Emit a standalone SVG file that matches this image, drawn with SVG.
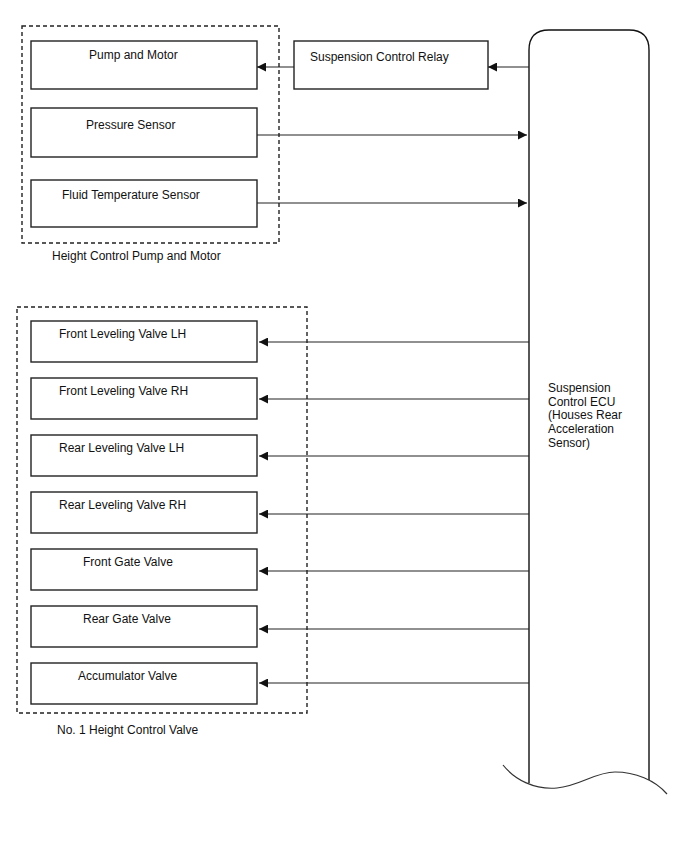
<svg xmlns="http://www.w3.org/2000/svg" width="688" height="852" viewBox="0 0 688 852">
<style>
.box{fill:#fff;stroke:#222;stroke-width:1.4}
.grp{fill:none;stroke:#222;stroke-width:1.4;stroke-dasharray:4,3}
.t{font-family:"Liberation Sans",Arial,sans-serif;font-size:12px;fill:#111}
.c{stroke:#222;stroke-width:1.2;fill:none}
</style>
<defs>
<marker id="ah" viewBox="0 0 10 10" refX="10" refY="5" markerWidth="10" markerHeight="9" markerUnits="userSpaceOnUse" orient="auto">
<path d="M0,0 L10,5 L0,10 Z" fill="#111"/>
</marker>
</defs>
<rect width="688" height="852" fill="#fff"/>

<g id="group-pump">
<rect class="grp" x="22" y="26" width="257" height="217"/>
<text class="t" x="52" y="260">Height Control Pump and Motor</text>
</g>
<g id="group-valve">
<rect class="grp" x="17" y="307" width="290" height="406"/>
<text class="t" x="57" y="734">No. 1 Height Control Valve</text>
</g>

<g id="pump-motor"><rect class="box" x="31" y="41" width="226" height="48"/><text class="t" x="89" y="59">Pump and Motor</text></g>
<g id="pressure-sensor"><rect class="box" x="31" y="108" width="226" height="49"/><text class="t" x="86" y="129">Pressure Sensor</text></g>
<g id="fluid-temp-sensor"><rect class="box" x="31" y="180" width="226" height="47"/><text class="t" x="62" y="199">Fluid Temperature Sensor</text></g>
<g id="relay"><rect class="box" x="294" y="41" width="194" height="48"/><text class="t" x="310" y="61">Suspension Control Relay</text></g>

<g id="front-lh"><rect class="box" x="31" y="321" width="226" height="41"/><text class="t" x="59" y="338">Front Leveling Valve LH</text></g>
<g id="front-rh"><rect class="box" x="31" y="378" width="226" height="41"/><text class="t" x="59" y="395">Front Leveling Valve RH</text></g>
<g id="rear-lh"><rect class="box" x="31" y="435" width="226" height="41"/><text class="t" x="59" y="452">Rear Leveling Valve LH</text></g>
<g id="rear-rh"><rect class="box" x="31" y="492" width="226" height="41"/><text class="t" x="59" y="509">Rear Leveling Valve RH</text></g>
<g id="front-gate"><rect class="box" x="31" y="549" width="226" height="41"/><text class="t" x="83" y="566">Front Gate Valve</text></g>
<g id="rear-gate"><rect class="box" x="31" y="606" width="226" height="41"/><text class="t" x="83" y="623">Rear Gate Valve</text></g>
<g id="accumulator"><rect class="box" x="31" y="663" width="226" height="41"/><text class="t" x="78" y="680">Accumulator Valve</text></g>

<g id="ecu">
<path d="M529,783 L529,50 Q529,30 549,30 L629,30 Q649,30 649,50 L649,780" fill="#fff" stroke="#111" stroke-width="1.4"/>
<path d="M503,765 C515,780 535,790 557,788 C580,786 595,772 615,772 C635,772 655,780 667,794" fill="none" stroke="#333" stroke-width="1.2"/>
<text class="t" x="548" y="392">Suspension</text>
<text class="t" x="548" y="406">Control ECU</text>
<text class="t" x="548" y="419">(Houses Rear</text>
<text class="t" x="548" y="433">Acceleration</text>
<text class="t" x="548" y="447">Sensor)</text>
</g>

<g id="connectors">
<line class="c" x1="294" y1="67" x2="257" y2="67" marker-end="url(#ah)"/>
<line class="c" x1="529" y1="67" x2="488" y2="67" marker-end="url(#ah)"/>
<line class="c" x1="257" y1="135" x2="527" y2="135" marker-end="url(#ah)"/>
<line class="c" x1="257" y1="203" x2="527" y2="203" marker-end="url(#ah)"/>
<line class="c" x1="529" y1="342" x2="259" y2="342" marker-end="url(#ah)"/>
<line class="c" x1="529" y1="399" x2="259" y2="399" marker-end="url(#ah)"/>
<line class="c" x1="529" y1="456" x2="259" y2="456" marker-end="url(#ah)"/>
<line class="c" x1="529" y1="514" x2="259" y2="514" marker-end="url(#ah)"/>
<line class="c" x1="529" y1="571" x2="259" y2="571" marker-end="url(#ah)"/>
<line class="c" x1="529" y1="629" x2="259" y2="629" marker-end="url(#ah)"/>
<line class="c" x1="529" y1="683" x2="259" y2="683" marker-end="url(#ah)"/>
</g>
</svg>
